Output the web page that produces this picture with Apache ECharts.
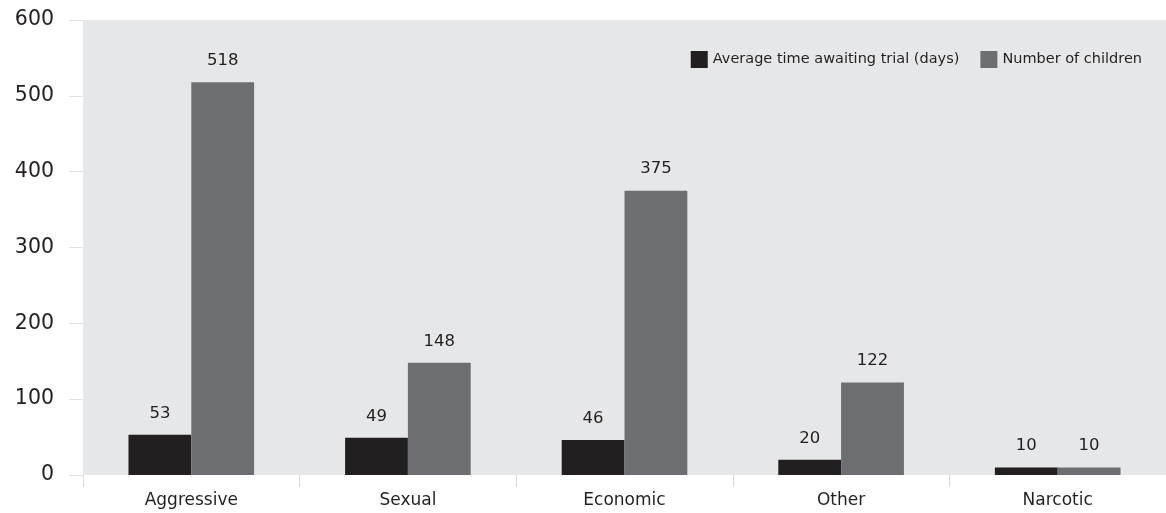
<!DOCTYPE html>
<html><head><meta charset="utf-8">
<script src="https://cdn.jsdelivr.net/npm/echarts@6/dist/echarts.min.js"></script>
<style>html,body{margin:0;padding:0;background:#fff}#c{width:1166px;height:513px}</style>
</head><body><div id="c"></div>
<script>
const categories = ['Aggressive', 'Sexual', 'Economic', 'Other', 'Narcotic'];
const avgTimeDays = [53, 49, 46, 20, 10];
const numChildren = [518, 148, 375, 122, 10];
const seriesNames = ['Average time awaiting trial (days)', 'Number of children'];
const yTicks = [0, 100, 200, 300, 400, 500, 600];

const font = 'DejaVu Sans';
const chart = echarts.init(document.getElementById('c'), null, {renderer: 'canvas'});
chart.setOption({
  animation: false,
  textStyle: {fontFamily: font},
  grid: {left: 83, right: 0, top: 20, bottom: 38, show: true, backgroundColor: '#e6e7e8', borderWidth: 0},
  legend: {
    right: 19, top: 46, itemWidth: 17, itemHeight: 17, itemGap: 21,
    icon: 'rect',
    textStyle: {fontFamily: font, fontSize: 14.5, color: '#231f20'},
    data: seriesNames
  },
  xAxis: {
    type: 'category', data: categories,
    axisLine: {show: false},
    axisTick: {show: true, length: 12, lineStyle: {color: '#d9d9d9', width: 1}},
    axisLabel: {fontFamily: font, fontSize: 17, color: '#231f20', margin: 17}
  },
  yAxis: {
    type: 'value', min: yTicks[0], max: yTicks[yTicks.length - 1], interval: 100,
    axisLine: {show: false},
    axisTick: {show: true, inside: false, length: 14, lineStyle: {color: '#e3e3e3', width: 1}},
    splitLine: {show: false},
    axisLabel: {fontFamily: font, fontSize: 20.5, color: '#231f20', margin: 29}
  },
  series: [
    {
      name: seriesNames[0], type: 'bar', data: avgTimeDays,
      barGap: '0%', barCategoryGap: '42%',
      itemStyle: {color: '#231f20'},
      label: {show: true, position: 'top', distance: 13, fontFamily: font, fontSize: 16.5, color: '#231f20'}
    },
    {
      name: seriesNames[1], type: 'bar', data: numChildren,
      barGap: '0%', barCategoryGap: '42%',
      itemStyle: {color: '#6d6e71'},
      label: {show: true, position: 'top', distance: 13, fontFamily: font, fontSize: 16.5, color: '#231f20'}
    }
  ]
});
</script></body></html>
